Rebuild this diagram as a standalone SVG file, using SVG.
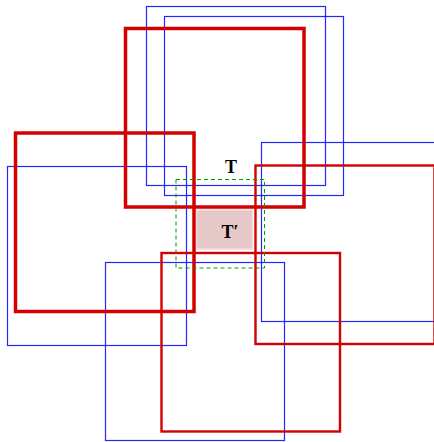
<svg xmlns="http://www.w3.org/2000/svg" width="434" height="442" viewBox="0 0 434 442">
<style>
.b{fill:none;stroke:#0000ff;stroke-width:1.2;stroke-opacity:0.85}
.rt{fill:none;stroke:#d40000;stroke-width:3.5}
.rn{fill:none;stroke:#d40000;stroke-width:2.4}
.lbl{font-family:"Liberation Serif","DejaVu Serif",serif;font-weight:bold;font-size:18px;fill:#000;text-anchor:middle}
</style>
<rect width="434" height="442" fill="#fff"/>
<g id="pink"><rect x="196.5" y="210" width="56" height="39" fill="#e6c8c8" stroke="#f2dede" stroke-width="1.5"/></g>
<g id="blue-top1"><rect class="b" x="146.5" y="6.5" width="179" height="179"/></g>
<g id="blue-top2"><rect class="b" x="164.5" y="16.5" width="179" height="179"/></g>
<g id="blue-left"><rect class="b" x="7.5" y="166.5" width="179" height="179"/></g>
<g id="blue-bottom"><rect class="b" x="105.5" y="262.5" width="179" height="178"/></g>
<g id="blue-right"><rect class="b" x="261.5" y="142.5" width="179" height="179"/></g>
<g id="red-top"><rect class="rt" x="125.5" y="28.5" width="178.5" height="178.5"/></g>
<g id="red-left"><rect class="rt" x="15.5" y="133" width="178.5" height="178.5"/></g>
<g id="red-bottom"><rect class="rn" x="161.5" y="253" width="178.5" height="178.5"/></g>
<g id="red-right"><rect class="rn" x="255.5" y="165.5" width="179" height="178.5"/></g>
<g id="green"><rect x="176" y="179.5" width="88.5" height="88.5" fill="none" stroke="#009900" stroke-width="1" stroke-dasharray="4,3"/></g>
<g id="T"><text class="lbl" x="231" y="173">T</text></g>
<g id="Tprime"><text class="lbl" x="230" y="238">T′</text></g>
</svg>
